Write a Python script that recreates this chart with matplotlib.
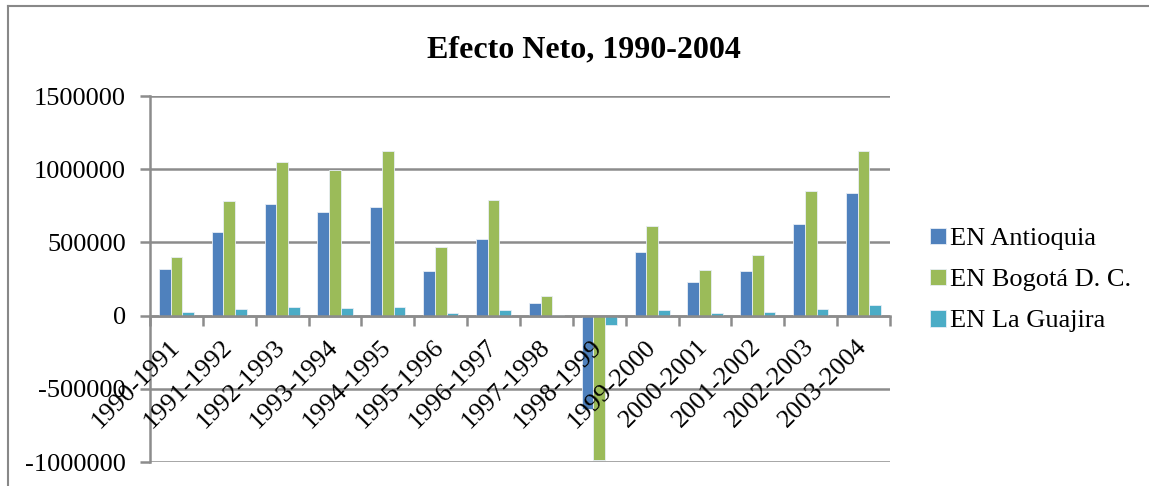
import numpy as np
import matplotlib
matplotlib.use('Agg')
import matplotlib.pyplot as plt
from matplotlib.lines import Line2D
from matplotlib.transforms import ScaledTranslation

periods = ['1990-1991', '1991-1992', '1992-1993', '1993-1994', '1994-1995',
           '1995-1996', '1996-1997', '1997-1998', '1998-1999', '1999-2000',
           '2000-2001', '2001-2002', '2002-2003', '2003-2004']
antioquia = [316000, 569000, 764000, 709000, 739000, 307000, 525000, 87000,
             -640000, 432000, 230000, 303000, 626000, 837000]
bogota = [402000, 780000, 1048000, 996000, 1121000, 466000, 789000, 134000,
          -985000, 612000, 310000, 412000, 851000, 1126000]
guajira = [23000, 44000, 59000, 55000, 61000, 18000, 41000, 2000,
           -64000, 39000, 18000, 27000, 46000, 73000]
series_names = ['EN Antioquia', 'EN Bogotá D. C.', 'EN La Guajira']
colors = ['#4F81BD', '#9BBB59', '#4BACC6']
yticks = [-1000000, -500000, 0, 500000, 1000000, 1500000]

plt.rcParams['font.family'] = ['Liberation Serif', 'DejaVu Serif']
plt.rcParams['axes.unicode_minus'] = False

W, H = 1149, 486
fig = plt.figure(figsize=(W / 100, H / 100), dpi=100)
ax = fig.add_axes([150 / W, 1 - 462 / H, 740 / W, 366 / H])

x = np.arange(len(periods))
bw = 1 / 4.5
grid_c = '#8c8c8c'
for i, (vals, name, c) in enumerate(zip([antioquia, bogota, guajira], series_names, colors)):
    ax.bar(x + (i - 1) * bw, vals, bw, color=c, label=name,
           edgecolor='#e8eef6', linewidth=0.6, zorder=2)

ax.set_xlim(-0.5, len(periods) - 0.5)
ax.set_ylim(-1000000, 1500000)
ax.set_yticks(yticks)
ax.set_yticklabels([str(v) for v in yticks])
ax.yaxis.grid(True, color=grid_c, linewidth=1.8)
ax.yaxis.set_zorder(0.5)

for s in ['top', 'right']:
    ax.spines[s].set_visible(False)
ax.spines['bottom'].set_position(('data', 0))
ax.spines['bottom'].set_color(grid_c)
ax.spines['bottom'].set_linewidth(1.8)
ax.spines['bottom'].set_zorder(4)
ax.spines['left'].set_color(grid_c)
ax.spines['left'].set_linewidth(1.8)

# category boundaries get the tick marks, labels are drawn on top of the bars
ax.set_xticks(np.arange(len(periods) + 1) - 0.5)
ax.set_xticklabels([])
ax.tick_params(axis='x', length=7, width=1.8, color=grid_c, direction='out')
ax.tick_params(axis='y', length=7, width=1.8, color=grid_c, labelsize=19, pad=10.5)

lab_off = ScaledTranslation(-8 / 100, -20 / 100, fig.dpi_scale_trans)
for xi, lab in zip(x, periods):
    ax.text(xi, 0, lab, rotation=45, ha='right', va='top', rotation_mode='anchor',
            fontsize=19, transform=ax.transData + lab_off, zorder=5, clip_on=False)

fig.text(584 / W, 1 - 57 / H, 'Efecto Neto, 1990-2004', ha='center', va='baseline',
         fontsize=23, fontweight='bold')

fig.legend(loc='center left', bbox_to_anchor=(930 / W, 1 - 280 / H), frameon=False,
           fontsize=19, handlelength=0.6, handleheight=0.6, handletextpad=0.15,
           labelspacing=0.7, borderpad=0, borderaxespad=0)

# outer chart border (left and top edges visible)
fig.add_artist(Line2D([8 / W, 8 / W], [0, 1 - 6 / H], color='#888888', linewidth=1.5))
fig.add_artist(Line2D([8 / W, 1], [1 - 6 / H, 1 - 6 / H], color='#888888', linewidth=1.5))

fig.savefig('out.png', dpi=100)
